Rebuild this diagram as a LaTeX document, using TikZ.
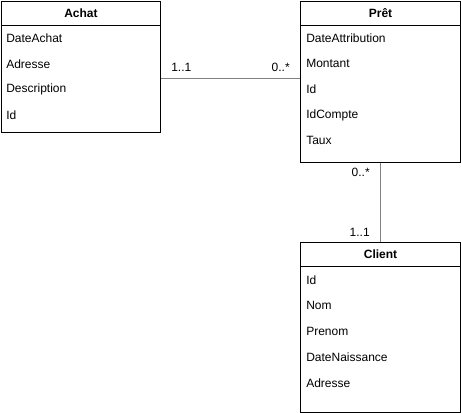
\documentclass[tikz,border=0pt]{standalone}
\usepackage{fontspec}
\setmainfont{Liberation Sans}
\usetikzlibrary{positioning}
\definecolor{Trait}{HTML}{808080}

\begin{document}
\begin{tikzpicture}[x=0.75pt,y=-0.75pt,
  classe/.style={draw,line width=0.75pt,anchor=north west,minimum width=120pt,inner sep=0pt},
  titre/.style={font=\fontsize{9}{11}\selectfont\bfseries,inner sep=0pt},
  attribut/.style={font=\fontsize{9}{11}\selectfont,anchor=west,inner sep=0pt},
  mult/.style={font=\fontsize{9}{11}\selectfont,inner sep=0pt},
  lien/.style={draw=Trait,line width=0.75pt}]
\useasboundingbox (0,0) rectangle (461,413);
% classes
\node[classe,minimum width=119.25pt,minimum height=98.25pt] (achat) at (1,1) {};
\node[classe,minimum height=120.75pt] (pret) at (300,1) {};
\node[classe,minimum height=127.5pt] (client) at (300,242) {};
% en-tetes
\foreach \c/\t in {achat/Achat,pret/Prêt,client/Client}{
  \draw[line width=0.75pt] ([yshift=-18.75pt]\c.north west) -- ([yshift=-18.75pt]\c.north east);
  \node[titre] (\c-titre) at ([yshift=-9pt]\c.north) {\t};
}
% attributs
\foreach \a [count=\i] in {DateAchat,Adresse,Description,Id}
  \node[attribut] (achat-\i) at ([xshift=3.75pt,yshift={-27.75pt-(\i-1)*19.3pt}]achat.north west) {\a};
\foreach \a [count=\i] in {DateAttribution,Montant,Id,IdCompte,Taux}
  \node[attribut] (pret-\i) at ([xshift=4.5pt,yshift={-27.75pt-(\i-1)*19.3pt}]pret.north west) {\a};
\foreach \a [count=\i] in {Id,Nom,Prenom,DateNaissance,Adresse}
  \node[attribut] (client-\i) at ([xshift=4.5pt,yshift={-28.5pt-(\i-1)*19.3pt}]client.north west) {\a};
% associations
\draw[lien] ([yshift=-58.5pt]achat.north east) -- ([yshift=-58.5pt]achat.north east -| pret.west);
\draw[lien] (pret.south) -- (client.north);
\node[mult,anchor=west] (m-achat) at (171,67) {1..1};
\node[mult,anchor=east] (m-pret1) at (290,67) {0..*};
\node[mult,anchor=east] (m-pret2) at (370,172) {0..*};
\node[mult,anchor=east] (m-client) at (370,232) {1..1};
\end{tikzpicture}
\end{document}
